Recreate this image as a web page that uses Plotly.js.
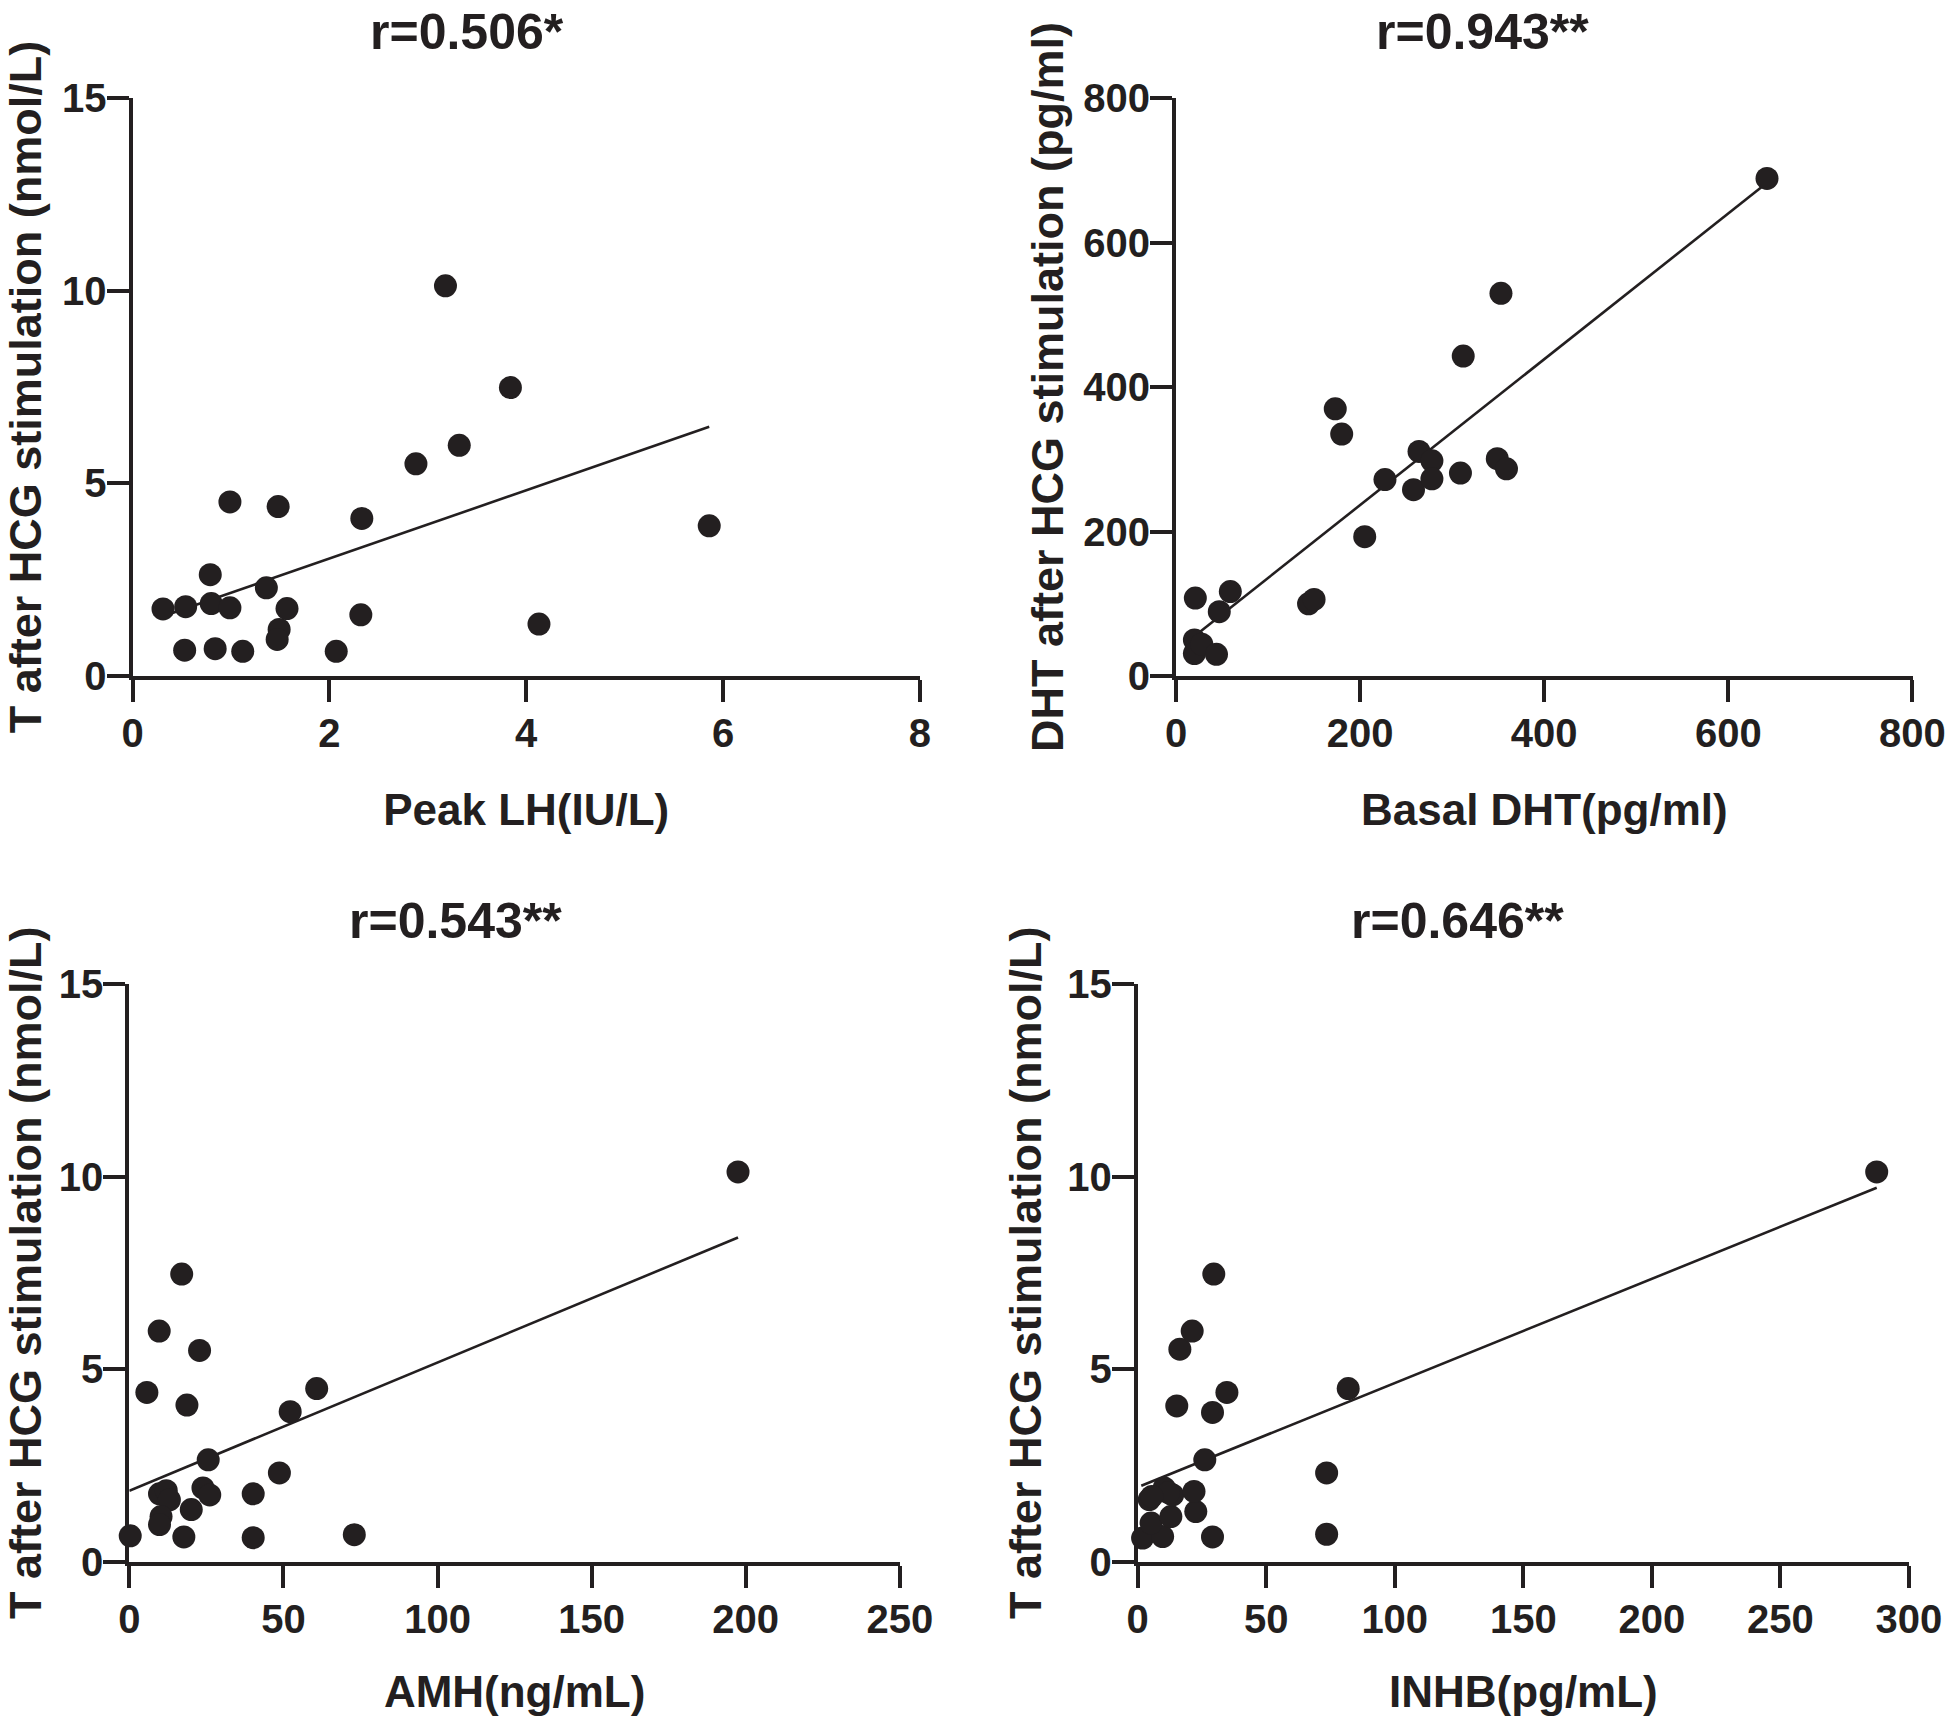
<!DOCTYPE html>
<html>
<head>
<meta charset="utf-8">
<script src="https://cdn.plot.ly/plotly-3.0.1.min.js"></script>
<style>
html,body{margin:0;padding:0;background:#ffffff;}
#chart{width:1950px;height:1716px;}
</style>
</head>
<body>
<div id="chart"></div>
<script>
// ---------- DATA ----------
// Panel A: Peak LH vs T after HCG
const peakLH = [0.31,0.54,0.53,0.79,0.80,0.84,0.99,0.99,1.12,1.36,1.48,1.49,1.47,1.57,2.07,2.33,2.32,2.88,3.18,3.32,3.84,4.13,5.86];
const tAfterA = [1.74,1.80,0.67,2.63,1.88,0.71,1.77,4.52,0.64,2.29,4.40,1.21,0.95,1.75,0.64,4.09,1.59,5.51,10.13,5.99,7.49,1.35,3.90];
const fitAX = [0.31, 5.86];
const fitAY = [1.55, 6.47];

// Panel B: Basal DHT vs DHT after HCG
const basalDHT = [21,20,20,28,44,47,59,144,150,173,180,205,227,258,264,278,278,309,312,349,359,353,642];
const dhtAfter = [108,50,31,44,30,89,117,100,106,370,335,193,272,258,311,298,273,281,443,301,287,530,689];
const fitBX = [20, 642];
const fitBY = [55, 683];

// Panel C: AMH vs T after HCG
const amh = [0.3,5.7,9.7,9.8,12.0,13.0,10.3,9.8,17.0,17.7,18.7,20.1,22.8,23.9,26.1,25.6,40.2,40.2,48.7,52.2,60.8,73.0,197.5];
const tAfterC = [0.68,4.40,5.99,1.77,1.85,1.61,1.18,0.97,7.47,0.65,4.07,1.36,5.49,1.92,1.74,2.65,1.77,0.63,2.31,3.90,4.50,0.71,10.12];
const fitCX = [0, 197.5];
const fitCY = [1.85, 8.42];

// Panel D: INHB vs T after HCG
const inhb = [1.9,9.7,29.1,4.5,5.2,12.9,22.6,10.3,13.6,21.9,12.0,5.5,26.1,15.2,29.1,16.4,21.2,29.6,34.7,73.5,73.5,81.9,287.5];
const tAfterD = [0.62,0.66,0.65,1.62,1.01,1.18,1.31,1.92,1.74,1.83,1.80,1.70,2.65,4.05,3.88,5.52,5.99,7.47,4.40,2.31,0.72,4.50,10.12];
const fitDX = [1.4, 287.5];
const fitDY = [1.98, 9.71];

const titles = ["r=0.506*", "r=0.943**", "r=0.543**", "r=0.646**"];
const xTitles = ["Peak LH(IU/L)", "Basal DHT(pg/ml)", "AMH(ng/mL)", "INHB(pg/mL)"];
const yTitles = ["T after HCG stimulation (nmol/L)", "DHT after HCG stimulation (pg/ml)",
                 "T after HCG stimulation (nmol/L)", "T after HCG stimulation (nmol/L)"];

// ---------- STYLE ----------
const W = 1950, H = 1716;
const INK = "#231f20";
const FONT = "'Liberation Sans', Arial, sans-serif";

function px2x(p){ return p / W; }
function px2y(p){ return 1 - p / H; }

function pointTrace(x, y, xa, ya){
  return {type:"scatter", mode:"markers", x:x, y:y, xaxis:xa, yaxis:ya,
    marker:{size:23, color:INK, line:{width:0}}, cliponaxis:false, hoverinfo:"skip", showlegend:false};
}
function lineTrace(x, y, xa, ya){
  return {type:"scatter", mode:"lines", x:x, y:y, xaxis:xa, yaxis:ya,
    line:{color:INK, width:2.6}, cliponaxis:false, hoverinfo:"skip", showlegend:false};
}

const data = [
  lineTrace(fitAX, fitAY, "x", "y"),
  pointTrace(peakLH, tAfterA, "x", "y"),
  lineTrace(fitBX, fitBY, "x2", "y2"),
  pointTrace(basalDHT, dhtAfter, "x2", "y2"),
  lineTrace(fitCX, fitCY, "x3", "y3"),
  pointTrace(amh, tAfterC, "x3", "y3"),
  lineTrace(fitDX, fitDY, "x4", "y4"),
  pointTrace(inhb, tAfterD, "x4", "y4")
];

function axisBase(range, dtick, domain, anchor, titleText, isY, standoff){
  return {
    domain: domain, range: [range[0], range[1] * 1.0002], dtick: dtick, tick0: 0, anchor: anchor,
    showgrid:false, zeroline:false, showline:true, linecolor:INK, linewidth:4,
    ticks:"outside", ticklen:22, tickwidth:4, tickcolor:INK,
    tickfont:{family:FONT, size:40, color:INK, weight:700},
    ticklabelstandoff: isY ? -8 : -3,
    fixedrange:true,
    title:{
      text: titleText,
      font: isY ? {family:FONT, size:45, color:INK, weight:700}
                : {family:FONT, size:44, color:INK, weight:700},
      standoff: standoff
    }
  };
}

// plot-area pixel boxes [left, right, top, bottom]
const boxes = [
  [132.5, 920, 98.2, 676],
  [1176, 1912.6, 98.2, 676],
  [129.3, 900, 983.7, 1562],
  [1137.7, 1909, 983.7, 1562]
];
const xr = [[0,8],[0,800],[0,250],[0,300]];
const xd = [2,200,50,50];
const yr = [[0,15],[0,800],[0,15],[0,15]];
const yd = [5,200,5,5];
const yStandoff = [12, 6, 12, 12];

const layout = {
  width: W, height: H,
  margin:{l:0, r:0, t:0, b:0},
  paper_bgcolor:"#ffffff", plot_bgcolor:"#ffffff",
  showlegend:false,
  annotations: []
};

const titlePos = [[466.5, 32], [1482, 32], [455, 921], [1457, 921]];

for (let i = 0; i < 4; i++){
  const b = boxes[i];
  const sx = i === 0 ? "" : String(i+1);
  layout["xaxis" + sx] = axisBase(xr[i], xd[i], [px2x(b[0]), px2x(b[1])], "y" + sx, xTitles[i], false, 41);
  layout["yaxis" + sx] = axisBase(yr[i], yd[i], [px2y(b[3]), px2y(b[2])], "x" + sx, yTitles[i], true, yStandoff[i]);
  layout.annotations.push({
    text: titles[i], xref:"paper", yref:"paper",
    x: px2x(titlePos[i][0]), y: px2y(titlePos[i][1]),
    xanchor:"center", yanchor:"middle", showarrow:false,
    font:{family:FONT, size:50, color:INK, weight:700}
  });
}

Plotly.newPlot("chart", data, layout, {staticPlot:true, displayModeBar:false});
</script>
</body>
</html>
